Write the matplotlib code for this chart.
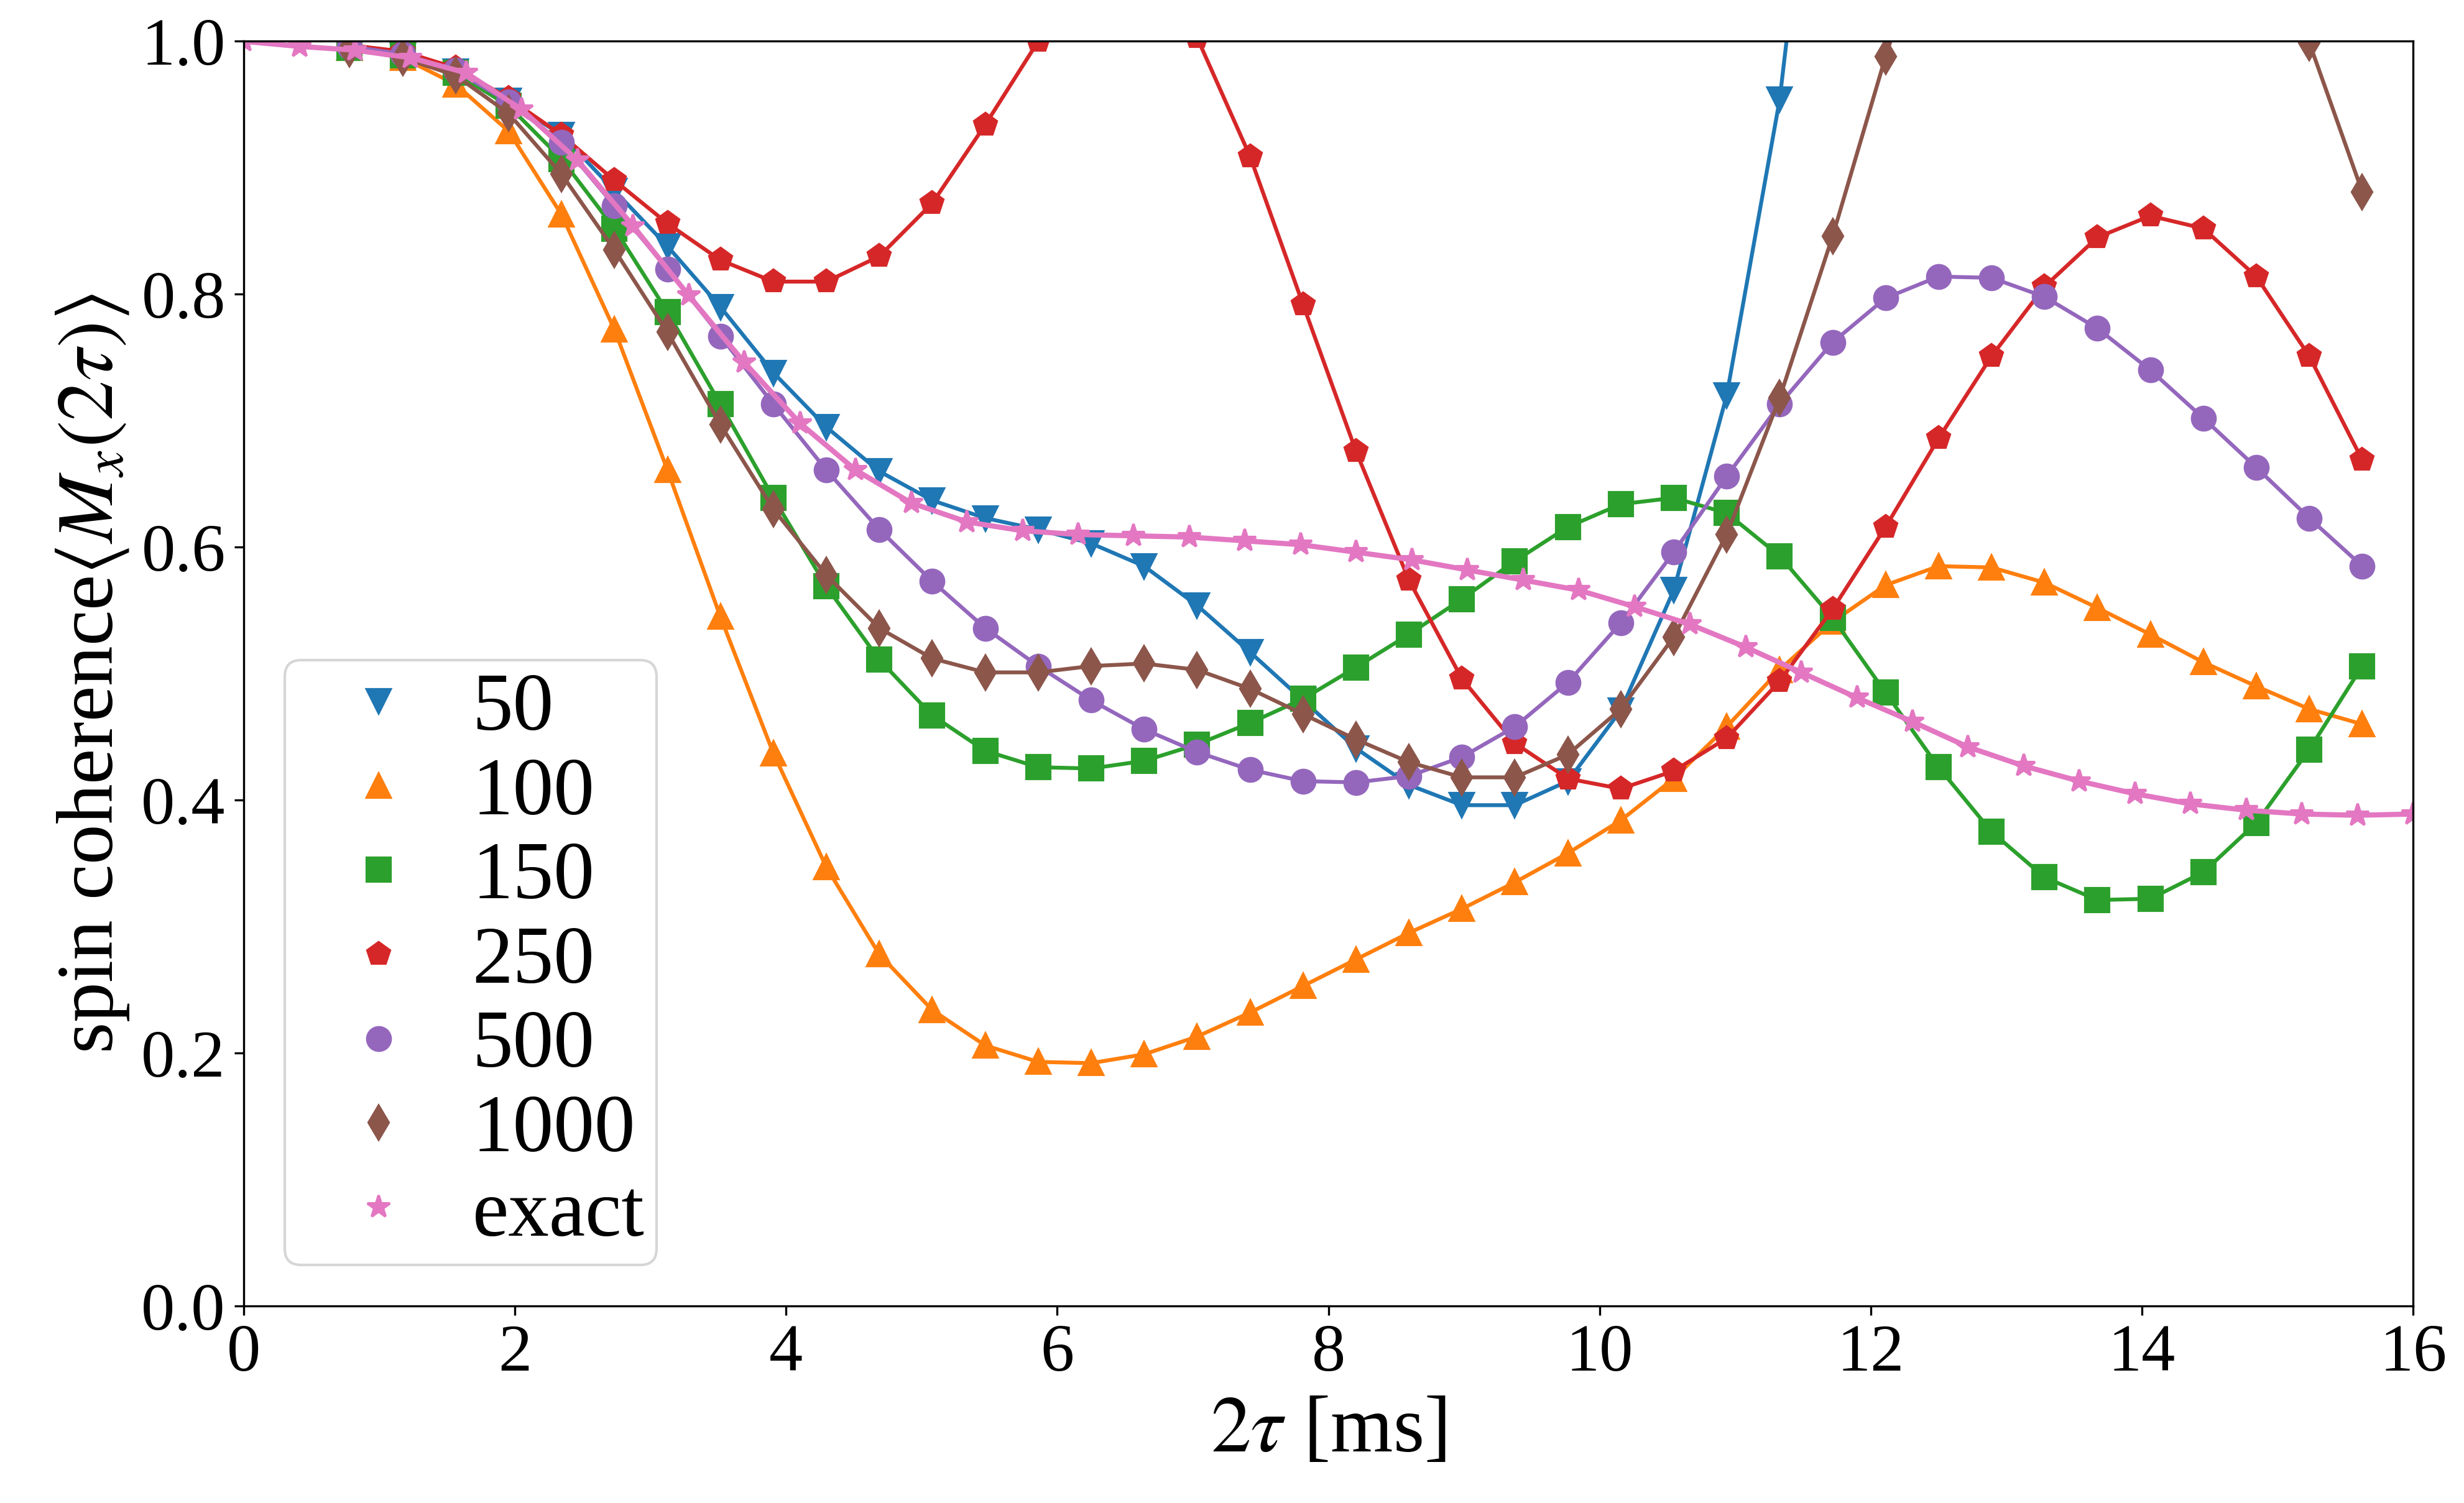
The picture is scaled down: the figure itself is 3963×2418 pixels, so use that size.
import numpy as np
import matplotlib.pyplot as plt

# fonts: Times-like text and stix math
plt.rcParams['font.family'] = 'Liberation Serif'
plt.rcParams['mathtext.fontset'] = 'stix'

# time grid of the simulations (2tau in ms), first two points not stored
x_sim = np.arange(2, 41) * 0.390625
# time grid of the exact solution
x_exact = np.linspace(0, 16, 40)

# spin coherence for each number of samples
y_50 = [0.996, 0.989, 0.976, 0.953, 0.926, 0.882, 0.838, 0.790, 0.738, 0.695,
        0.660, 0.637, 0.623, 0.614, 0.603, 0.585, 0.554, 0.517, 0.479, 0.441,
        0.412, 0.396, 0.396, 0.415, 0.471, 0.566, 0.720, 0.954, 1.310, 1.700]
y_100 = [0.995, 0.987, 0.966, 0.929, 0.863, 0.772, 0.661, 0.545, 0.437, 0.347,
         0.278, 0.234, 0.206, 0.193, 0.192, 0.199, 0.213, 0.232, 0.253, 0.274,
         0.295, 0.314, 0.335, 0.358, 0.384, 0.417, 0.458, 0.503, 0.541, 0.570,
         0.585, 0.584, 0.572, 0.552, 0.531, 0.509, 0.490, 0.472, 0.460]
y_150 = [0.995, 0.989, 0.975, 0.949, 0.907, 0.852, 0.786, 0.713, 0.639, 0.569,
         0.511, 0.467, 0.439, 0.426, 0.425, 0.431, 0.444, 0.461, 0.480, 0.505,
         0.531, 0.559, 0.589, 0.616, 0.634, 0.639, 0.627, 0.593, 0.544, 0.485,
         0.426, 0.375, 0.339, 0.321, 0.322, 0.343, 0.382, 0.440, 0.506]
y_250 = [0.997, 0.992, 0.979, 0.955, 0.926, 0.890, 0.856, 0.827, 0.810, 0.810,
         0.830, 0.872, 0.934, 1.000, 1.050, 1.060, 1.003, 0.909, 0.792, 0.676,
         0.574, 0.496, 0.445, 0.417, 0.409, 0.423, 0.449, 0.494, 0.551, 0.616,
         0.686, 0.751, 0.806, 0.845, 0.862, 0.852, 0.814, 0.751, 0.669]
y_500 = [0.996, 0.990, 0.977, 0.952, 0.920, 0.870, 0.820, 0.767, 0.713, 0.661,
         0.614, 0.573, 0.536, 0.506, 0.479, 0.456, 0.438, 0.424, 0.415, 0.414,
         0.419, 0.434, 0.458, 0.493, 0.540, 0.596, 0.656, 0.713, 0.762, 0.797,
         0.814, 0.813, 0.798, 0.773, 0.740, 0.702, 0.663, 0.623, 0.585]
y_1000 = [0.994, 0.987, 0.973, 0.943, 0.895, 0.835, 0.770, 0.697, 0.630, 0.578,
          0.536, 0.512, 0.501, 0.501, 0.506, 0.508, 0.503, 0.488, 0.468, 0.448,
          0.430, 0.418, 0.418, 0.436, 0.472, 0.529, 0.610, 0.718, 0.846, 0.988,
          1.120, 1.240, 1.320, 1.360, 1.350, 1.280, 1.150, 0.999, 0.881]
y_exact = [1.000, 0.996, 0.993, 0.987, 0.975, 0.946, 0.906, 0.854, 0.799, 0.746,
           0.698, 0.661, 0.635, 0.620, 0.613, 0.610, 0.609, 0.608, 0.605, 0.602,
           0.596, 0.590, 0.582, 0.574, 0.566, 0.553, 0.539, 0.521, 0.501, 0.481,
           0.462, 0.442, 0.427, 0.415, 0.405, 0.397, 0.392, 0.389, 0.388, 0.389]

labels = ['50', '100', '150', '250', '500', '1000']
series = [y_50, y_100, y_150, y_250, y_500, y_1000]
markers = ['v', '^', 's', 'p', 'o', 'd']

fig, ax = plt.subplots(figsize=(13.2133, 8.06), dpi=300)
fig.subplots_adjust(left=0.0989, right=0.9791, top=0.9725, bottom=0.1311)

for i, (lab, y, m) in enumerate(zip(labels, series, markers)):
    c = 'C%d' % i
    xs = x_sim[:len(y)]
    ax.plot(xs, y, '-', color=c, lw=1.5)
    ax.plot(xs, y, m, color=c, ms=9, label=lab)

ax.plot(x_exact, y_exact, '-', color='C6', lw=2)
ax.plot(x_exact, y_exact, '*', color='C6', ms=9, label='exact')

ax.set_xlim(0, 16)
ax.set_ylim(0, 1)
ax.tick_params(labelsize=26)
ax.set_xlabel(r'$2\tau$ [ms]', fontsize=31)
ax.set_ylabel(r'spin coherence$\left\langle M_x\left(2\tau\right)\right\rangle$',
              fontsize=31)

ax.legend(loc='lower left', fontsize=31.5, labelspacing=0.12,
          handletextpad=0.15, borderpad=0.15)

plt.savefig('out.png', dpi=300)
